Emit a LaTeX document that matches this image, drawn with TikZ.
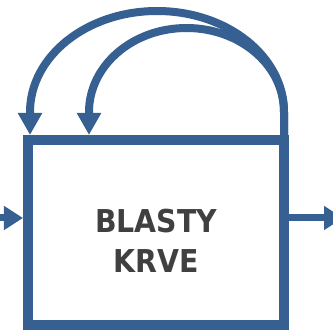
\documentclass[tikz,border=0pt]{standalone}
\usepackage{fontspec}
\usepackage{tikz}
\usetikzlibrary{arrows.meta, positioning, calc}
\newfontfamily\boxfont{DejaVu Sans Condensed}
\definecolor{flowblue}{RGB}{55,96,146}
\definecolor{boxtext}{RGB}{64,64,64}
\begin{document}
\begin{tikzpicture}[x=1pt, y=1pt,
  block/.style={draw=flowblue, line width=10pt, minimum width=256pt, minimum height=185pt},
  blocktext/.style={text=boxtext, font=\boxfont\bfseries\fontsize{31.5pt}{40pt}\selectfont, align=center},
  io/.style={draw=flowblue, line width=7pt, -{Triangle[length=19pt, width=23pt]}},
  loop/.style={draw=flowblue, line width=8pt, -{Triangle[length=22pt, width=23pt]}}
]
\clip (0,0) rectangle (333,330);
\node[block] (box) at (156,97.5) {};
\node[blocktext] (name) at ([yshift=-8.5pt]box.center) {BLASTY\\KRVE};
\coordinate (in) at (0,112);
\coordinate (out) at (343,112);
\coordinate (src) at ([xshift=-5pt]box.north east);
\draw[io] (in) -- ([yshift=14.5pt]box.west);
\draw[io] ([yshift=14.5pt]box.east) -- (out);
% feedback loops
\draw[loop] (src) -- ++(0,23) arc[start angle=0, end angle=180, x radius=127pt, y radius=101pt] -- ([xshift=7pt]box.north west);
\draw[loop] (src) -- ++(0,23) arc[start angle=0, end angle=180, x radius=97.5pt, y radius=84pt] -- ([xshift=66pt]box.north west);
\end{tikzpicture}
\end{document}
